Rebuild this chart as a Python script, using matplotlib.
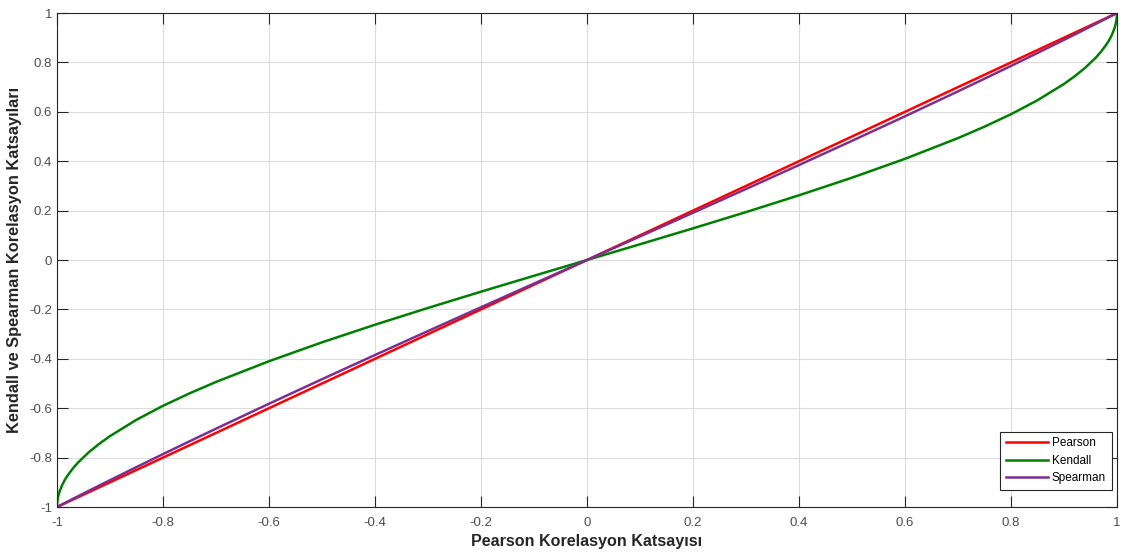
import matplotlib
matplotlib.use("Agg")
import matplotlib.pyplot as plt

plt.rcParams['font.family'] = ['Liberation Sans', 'DejaVu Sans']

# values (positive half, curves are symmetric about 0)
pos_x = [0.1, 0.2, 0.3, 0.4, 0.5, 0.6, 0.7, 0.75, 0.8, 0.85, 0.9, 0.92, 0.94, 0.96,
         0.97, 0.98, 0.985, 0.99, 0.995, 0.9975, 0.999, 0.9995, 1.0]
pos_kendall = [0.0638, 0.1282, 0.1940, 0.2620, 0.3333, 0.4097, 0.4936, 0.5399, 0.5903,
               0.6468, 0.7129, 0.7436, 0.7783, 0.8193, 0.8437, 0.8725, 0.8893, 0.9099,
               0.9364, 0.9550, 0.9715, 0.9799, 1.0]
pos_spearman = [0.0955, 0.1913, 0.2876, 0.3846, 0.4826, 0.5819, 0.6829, 0.7341, 0.7859,
                0.8383, 0.8915, 0.9128, 0.9344, 0.9561, 0.9670, 0.9780, 0.9835, 0.9890,
                0.9945, 0.9973, 0.9989, 0.9995, 1.0]

x = [-v for v in pos_x[::-1]] + [0] + pos_x
pearson = x
kendall = [-v for v in pos_kendall[::-1]] + [0] + pos_kendall
spearman = [-v for v in pos_spearman[::-1]] + [0] + pos_spearman

ticks = [-1, -0.8, -0.6, -0.4, -0.2, 0, 0.2, 0.4, 0.6, 0.8, 1]
tick_labels = ['-1', '-0.8', '-0.6', '-0.4', '-0.2', '0', '0.2', '0.4', '0.6', '0.8', '1']

fig = plt.figure(figsize=(11.26, 5.54), dpi=100)
ax = fig.add_axes([0.0506, 0.0848, 0.9414, 0.8917])

ax.plot(x, pearson, color='#ff0000', lw=1.8, label='Pearson')
ax.plot(x, kendall, color='#008000', lw=1.8, label='Kendall')
ax.plot(x, spearman, color='#7e2f8e', lw=1.8, label='Spearman')

ax.set_xlim(-1, 1)
ax.set_ylim(-1, 1)
ax.set_xticks(ticks)
ax.set_xticklabels(tick_labels)
ax.set_yticks(ticks)
ax.set_yticklabels(tick_labels)
ax.grid(True, color='#dcdcdc', lw=0.8)
ax.set_axisbelow(True)
ax.tick_params(direction='in', length=8, width=0.8, colors='#262626', labelcolor='#4d4d4d',
               labelsize=9.5, top=True, right=True)
ax.tick_params(axis='x', pad=7)
ax.tick_params(axis='y', pad=3.5)
for s in ax.spines.values():
    s.set_color('#262626')
    s.set_linewidth(0.8)

ax.set_xlabel('Pearson Korelasyon Katsayısı', fontsize=11.6, fontweight='bold', color='#262626', labelpad=4)
ax.set_ylabel('Kendall ve Spearman Korelasyon Katsayıları', fontsize=11.8, fontweight='bold',
              color='#262626', labelpad=5.5)

leg = ax.legend(loc='lower right', bbox_to_anchor=(0.9953, 0.0344), borderaxespad=0,
                fontsize=8.5, fancybox=False, framealpha=1, edgecolor='#262626',
                handlelength=3.6, labelspacing=0.45, handletextpad=0.3, borderpad=0.5)
leg.get_frame().set_linewidth(0.8)

fig.savefig('out.png', dpi=100)
